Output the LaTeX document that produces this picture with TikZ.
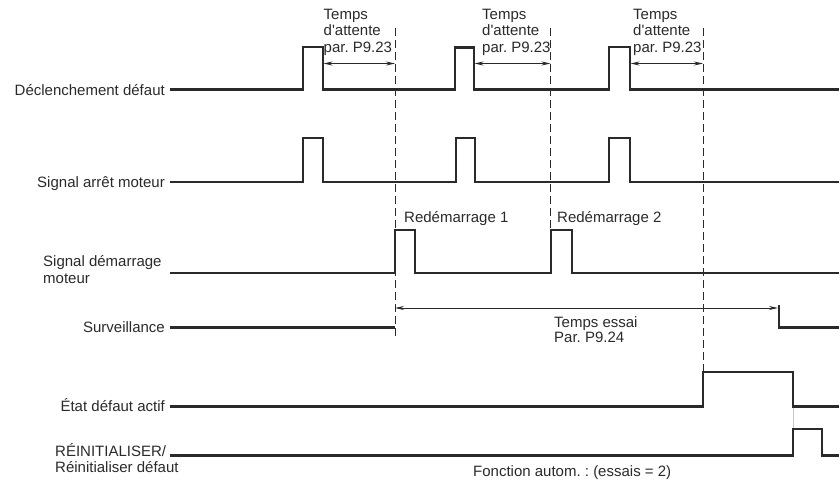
\documentclass[tikz,border=0pt]{standalone}
\usepackage{fontspec}
\setmainfont{Liberation Sans}
\usetikzlibrary{arrows.meta}
\frenchspacing
\definecolor{ink}{HTML}{2A2A2A}
\definecolor{cyanline}{HTML}{9FD3E6}
\tikzset{
  x=1pt, y=-1pt,
  sig/.style={draw=ink, line width=2.1pt, line join=miter},
  guide/.style={draw=ink, line width=0.9pt, dash pattern=on 8pt off 4pt},
  dim/.style={draw=ink, line width=0.9pt, {Stealth[length=9pt,width=4pt]}-{Stealth[length=9pt,width=4pt]}},
  lbl/.style={inner sep=0pt, text=ink, font=\fontsize{15}{17}\selectfont\frenchspacing},
}
\begin{document}
\begin{tikzpicture}
\useasboundingbox (0,0) rectangle (840,479);

% left labels
\node[lbl, anchor=base east] (l1) at (165,95) {Déclenchement défaut};
\node[lbl, anchor=base east] (l2) at (165,187.7) {Signal arrêt moteur};
\node[lbl, anchor=base west] (l3a) at (43,266) {Signal démarrage};
\node[lbl, anchor=base west] (l3b) at (43,283) {moteur};
\node[lbl, anchor=base east] (l4) at (165,332) {Surveillance};
\node[lbl, anchor=base east] (l5) at (165,411.7) {État défaut actif};
\node[lbl, anchor=base west] (l6a) at (55,456) {RÉINITIALISER/};
\node[lbl, anchor=base west] (l6b) at (55,472.5) {Réinitialiser défaut};

% waiting-time texts
\foreach \xx/\nm in {323.5/a,482/b,633/c}{
  \node[lbl, anchor=base west] (t1\nm) at (\xx,19) {Temps};
  \node[lbl, anchor=base west] (t2\nm) at (\xx,35.5) {d\textquotesingle attente};
  \node[lbl, anchor=base west] (t3\nm) at (\xx,52) {par. P9.23};
}
\node[lbl, anchor=base west] (r1) at (404,222) {Redémarrage 1};
\node[lbl, anchor=base west] (r2) at (557,222) {Redémarrage 2};
\node[lbl, anchor=base west] (e1) at (554,327) {Temps essai};
\node[lbl, anchor=base west] (e2) at (554,342.5) {Par. P9.24};
\node[lbl, anchor=base west] (fa) at (473,476) {Fonction autom. : (essais = 2)};

% dashed guides
\coordinate (d1t) at (395,28);   \coordinate (d1b) at (395,337);
\coordinate (d2t) at (550.5,28); \coordinate (d2b) at (550.5,230);
\coordinate (d3t) at (703,28);   \coordinate (d3b) at (703,372);
\draw[guide] (d1t) -- (d1b);
\draw[guide] (d2t) -- (d2b);
\draw[guide] (d3t) -- (d3b);

% waiting-time arrows
\coordinate (wa1) at (323.5,63.5); \coordinate (wa2) at (395,63.5);
\coordinate (wb1) at (474.5,63.5); \coordinate (wb2) at (550.5,63.5);
\coordinate (wc1) at (630.5,63.5); \coordinate (wc2) at (703,63.5);
\draw[dim] (wa1) -- (wa2);
\draw[dim] (wb1) -- (wb2);
\draw[dim] (wc1) -- (wc2);

% trial time arrow
\coordinate (ta1) at (395,308); \coordinate (ta2) at (778,308);
\draw[dim] (ta1) -- (ta2);

% signals
\draw[sig] (170,89.5) -- (303,89.5) -- (303,47) -- (323,47) -- (323,89.5) -- (455,89.5) -- (455,47.5) -- (474,47.5) -- (474,89.5) -- (609,89.5) -- (609,47) -- (630,47) -- (630,89.5) -- (839,89.5);
\draw[sig] (170,182) -- (303,182) -- (303,138) -- (323,138) -- (323,182) -- (456,182) -- (456,138) -- (475,138) -- (475,182) -- (609,182) -- (609,138) -- (630,138) -- (630,182) -- (839,182);
\draw[sig] (170,273) -- (395,273) -- (395,230) -- (415,230) -- (415,273) -- (551,273) -- (551,230) -- (572,230) -- (572,273) -- (839,273);
\draw[sig] (170,327.5) -- (395,327.5);
\draw[sig] (779,305) -- (779,327.5) -- (839,327.5);
\draw[sig] (170,406.5) -- (703,406.5) -- (703,372) -- (793,372) -- (793,406.5) -- (839,406.5);
\draw[sig] (170,455.5) -- (793,455.5) -- (793,429) -- (822,429) -- (822,455.5) -- (839,455.5);
\draw[cyanline, line width=1pt] (793,407.5) -- (793,428);
\end{tikzpicture}
\end{document}
